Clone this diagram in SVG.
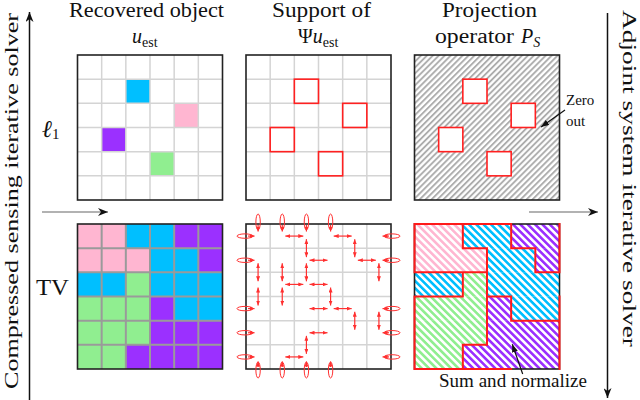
<svg xmlns="http://www.w3.org/2000/svg" width="640" height="400" viewBox="0 0 640 400">
<defs>
<style>
.t{font-family:"Liberation Serif","DejaVu Serif",serif;fill:#111}
.grid{stroke:#d4d4d4;stroke-width:1.5;fill:none}
.gridd{stroke:#9a9a9a;stroke-width:2;fill:none}
.frame{fill:none;stroke:#222;stroke-width:1.6}
.sq{fill:none;stroke:#ff2020;stroke-width:1.6}
.sqw{fill:#fff;stroke:#ff2020;stroke-width:1.6}
.red{stroke:#ff1a1a;stroke-width:2;fill:none;stroke-linecap:square}
.da{stroke:#ff3030;stroke-width:1.2;fill:none;marker-start:url(#ra);marker-end:url(#ra)}
.lp{stroke:#ff3030;stroke-width:1;fill:none}
.la{stroke:#ff3030;stroke-width:1.2;fill:none;marker-end:url(#ra)}
.P{fill:#ffb6d1}.C{fill:#00bfff}.G{fill:#90ee90}.U{fill:#9b30ff}
.hP{fill:url(#hP)}.hC{fill:url(#hC)}.hG{fill:url(#hG)}.hU{fill:url(#hU)}
</style>
<marker id="ra" viewBox="0 0 5 4" refX="5" refY="2" markerWidth="5" markerHeight="4" markerUnits="userSpaceOnUse" orient="auto-start-reverse"><path d="M0,0 L5,2 L0,4 z" fill="#ff3030"/></marker>
<marker id="ba" viewBox="0 0 10 8" refX="10" refY="4" markerWidth="10" markerHeight="8" markerUnits="userSpaceOnUse" orient="auto"><path d="M0,0 L10,4 L0,8 L3,4 z" fill="#111"/></marker>
<marker id="bs" viewBox="0 0 8 6" refX="8" refY="3" markerWidth="8" markerHeight="6" markerUnits="userSpaceOnUse" orient="auto"><path d="M0,0 L8,3 L0,6 z" fill="#111"/></marker>
<pattern id="hg" width="4.2" height="4.2" patternUnits="userSpaceOnUse" patternTransform="rotate(45)"><rect width="4.2" height="4.2" fill="#fff"/><line x1="1" y1="0" x2="1" y2="4.2" stroke="#a8a8a8" stroke-width="1.8"/></pattern>
<pattern id="hP" width="5.2" height="5.2" patternUnits="userSpaceOnUse" patternTransform="rotate(-45)"><rect width="5.2" height="5.2" fill="#fff"/><line x1="1.3" y1="0" x2="1.3" y2="5.2" stroke="#ffb6d1" stroke-width="2.6"/></pattern>
<pattern id="hC" width="5.2" height="5.2" patternUnits="userSpaceOnUse" patternTransform="rotate(-45)"><rect width="5.2" height="5.2" fill="#fff"/><line x1="1.3" y1="0" x2="1.3" y2="5.2" stroke="#00bfff" stroke-width="2.6"/></pattern>
<pattern id="hG" width="5.2" height="5.2" patternUnits="userSpaceOnUse" patternTransform="rotate(-45)"><rect width="5.2" height="5.2" fill="#fff"/><line x1="1.3" y1="0" x2="1.3" y2="5.2" stroke="#90ee90" stroke-width="2.6"/></pattern>
<pattern id="hU" width="5.2" height="5.2" patternUnits="userSpaceOnUse" patternTransform="rotate(-45)"><rect width="5.2" height="5.2" fill="#fff"/><line x1="1.3" y1="0" x2="1.3" y2="5.2" stroke="#9b30ff" stroke-width="2.6"/></pattern>
</defs>
<rect width="640" height="400" fill="#fff"/>

<g id="headers">
<text class="t" x="69" y="17" font-size="20" textLength="155" lengthAdjust="spacingAndGlyphs">Recovered object</text>
<text class="t" x="132" y="43" font-size="20"><tspan font-style="italic">u</tspan><tspan font-size="14" dy="4">est</tspan></text>
<text class="t" x="272" y="17" font-size="20" textLength="99" lengthAdjust="spacingAndGlyphs">Support of</text>
<text class="t" x="298" y="43" font-size="20">Ψ<tspan font-style="italic">u</tspan><tspan font-size="14" dy="4">est</tspan></text>
<text class="t" x="442" y="17" font-size="20" textLength="95" lengthAdjust="spacingAndGlyphs">Projection</text>
<text class="t" x="435" y="43" font-size="20" textLength="79" lengthAdjust="spacingAndGlyphs">operator</text>
<text class="t" x="521" y="43" font-size="20" font-style="italic">P<tspan font-size="14" dy="4">S</tspan></text>
</g>

<g id="side-left">
<line x1="29.5" y1="400" x2="29.5" y2="12" stroke="#111" stroke-width="1.5" marker-end="url(#ba)"/>
<text class="t" transform="translate(18,389) rotate(-90)" font-size="19.5" textLength="376" lengthAdjust="spacingAndGlyphs">Compressed sensing iterative solver</text>
</g>
<g id="side-right">
<line x1="607.5" y1="13" x2="607.5" y2="398" stroke="#111" stroke-width="1.5" marker-end="url(#ba)"/>
<text class="t" transform="translate(623,10) rotate(90)" font-size="19" textLength="337" lengthAdjust="spacingAndGlyphs">Adjoint system iterative solver</text>
</g>

<g id="row-labels">
<text class="t" x="42" y="137" font-size="24" font-style="italic">ℓ<tspan font-size="15" font-style="normal" dy="2">1</tspan></text>
<text class="t" x="36" y="295" font-size="24" textLength="33" lengthAdjust="spacingAndGlyphs">TV</text>
</g>

<g id="panel-l1-object">
<rect x="77.5" y="55" width="145" height="145" fill="#fff"/>
<rect class="C" x="125.83" y="79.17" width="24.17" height="24.17"/>
<rect class="P" x="174.17" y="103.33" width="24.17" height="24.17"/>
<rect class="U" x="101.67" y="127.5" width="24.17" height="24.17"/>
<rect class="G" x="150" y="151.67" width="24.17" height="24.17"/>
<path class="grid" d="M101.67 55V200M125.83 55V200M150 55V200M174.17 55V200M198.33 55V200M77.5 79.17H222.5M77.5 103.33H222.5M77.5 127.5H222.5M77.5 151.67H222.5M77.5 175.83H222.5"/>
<rect class="frame" x="77.5" y="55" width="145" height="145"/>
</g>

<g id="panel-l1-support">
<rect x="246" y="55" width="145" height="145" fill="#fff"/>
<path class="grid" d="M270.17 55V200M294.33 55V200M318.5 55V200M342.67 55V200M366.83 55V200M246 79.17H391M246 103.33H391M246 127.5H391M246 151.67H391M246 175.83H391"/>
<rect class="sq" x="294.33" y="79.17" width="24.17" height="24.17"/>
<rect class="sq" x="342.67" y="103.33" width="24.17" height="24.17"/>
<rect class="sq" x="270.17" y="127.5" width="24.17" height="24.17"/>
<rect class="sq" x="318.5" y="151.67" width="24.17" height="24.17"/>
<rect class="frame" x="246" y="55" width="145" height="145"/>
</g>

<g id="panel-l1-projection">
<rect x="414.5" y="55" width="145" height="145" fill="url(#hg)"/>
<rect class="sqw" x="462.83" y="79.17" width="24.17" height="24.17"/>
<rect class="sqw" x="511.17" y="103.33" width="24.17" height="24.17"/>
<rect class="sqw" x="438.67" y="127.5" width="24.17" height="24.17"/>
<rect class="sqw" x="487" y="151.67" width="24.17" height="24.17"/>
<rect class="frame" x="414.5" y="55" width="145" height="145"/>
</g>

<g id="zero-out">
<text class="t" x="566" y="105" font-size="15">Zero</text>
<text class="t" x="566" y="126" font-size="15">out</text>
</g>

<g id="panel-tv-object">
<rect class="P" x="77.5" y="224" width="48.33" height="24.3"/><rect class="C" x="125.83" y="224" width="48.34" height="24.3"/><rect class="U" x="174.17" y="224" width="48.33" height="24.3"/>
<rect class="P" x="77.5" y="248.17" width="72.5" height="24.3"/><rect class="C" x="150" y="248.17" width="48.33" height="24.3"/><rect class="U" x="198.33" y="248.17" width="24.17" height="24.3"/>
<rect class="C" x="77.5" y="272.33" width="48.33" height="24.3"/><rect class="G" x="125.83" y="272.33" width="24.17" height="24.3"/><rect class="C" x="150" y="272.33" width="72.5" height="24.3"/>
<rect class="G" x="77.5" y="296.5" width="72.5" height="24.3"/><rect class="U" x="150" y="296.5" width="24.17" height="24.3"/><rect class="C" x="174.17" y="296.5" width="48.33" height="24.3"/>
<rect class="G" x="77.5" y="320.67" width="72.5" height="24.3"/><rect class="U" x="150" y="320.67" width="72.5" height="24.3"/>
<rect class="G" x="77.5" y="344.83" width="48.33" height="24.17"/><rect class="U" x="125.83" y="344.83" width="96.67" height="24.17"/>
<path class="gridd" d="M101.67 224V369M125.83 224V369M150 224V369M174.17 224V369M198.33 224V369M77.5 248.17H222.5M77.5 272.33H222.5M77.5 296.5H222.5M77.5 320.67H222.5M77.5 344.83H222.5"/>
<rect class="frame" x="77.5" y="224" width="145" height="145"/>
</g>

<g id="panel-tv-support">
<rect x="246" y="224" width="145" height="145" fill="#fff"/>
<path class="grid" d="M270.17 224V369M294.33 224V369M318.5 224V369M342.67 224V369M366.83 224V369M246 248.17H391M246 272.33H391M246 296.5H391M246 320.67H391M246 344.83H391"/>
<rect class="frame" x="246" y="224" width="145" height="145"/>
</g>

<g id="panel-tv-projection">
<rect class="hP" x="414.5" y="224" width="48.33" height="24.3"/><rect class="hC" x="462.83" y="224" width="48.34" height="24.3"/><rect class="hU" x="511.17" y="224" width="48.33" height="24.3"/>
<rect class="hP" x="414.5" y="248.17" width="72.5" height="24.3"/><rect class="hC" x="487" y="248.17" width="48.33" height="24.3"/><rect class="hU" x="535.33" y="248.17" width="24.17" height="24.3"/>
<rect class="hC" x="414.5" y="272.33" width="48.33" height="24.3"/><rect class="hG" x="462.83" y="272.33" width="24.17" height="24.3"/><rect class="hC" x="487" y="272.33" width="72.5" height="24.3"/>
<rect class="hG" x="414.5" y="296.5" width="72.5" height="24.3"/><rect class="hU" x="487" y="296.5" width="24.17" height="24.3"/><rect class="hC" x="511.17" y="296.5" width="48.33" height="24.3"/>
<rect class="hG" x="414.5" y="320.67" width="72.5" height="24.3"/><rect class="hU" x="487" y="320.67" width="72.5" height="24.3"/>
<rect class="hG" x="414.5" y="344.83" width="48.33" height="24.17"/><rect class="hU" x="462.83" y="344.83" width="96.67" height="24.17"/>
<rect class="frame" x="414.5" y="224" width="145" height="145"/>
<path class="red" d="M462.83 224V248.17M511.17 224V248.17M487 248.17V272.33M535.33 248.17V272.33M462.83 272.33V296.5M487 272.33V296.5M487 296.5V320.67M511.17 296.5V320.67M487 320.67V344.83M462.83 344.83V369M414.5 224V272.33M414.5 296.5V369M559.5 224V272.33M559.5 296.5V369M462.83 248.17H487M511.17 248.17H535.33M414.5 272.33H487M535.33 272.33H559.5M414.5 296.5H462.83M487 296.5H511.17M511.17 320.67H559.5M462.83 344.83H487M414.5 224H511.17M414.5 369H511.17"/>
</g>

<g id="sum-normalize">
<text class="t" x="439" y="387" font-size="18" textLength="148" lengthAdjust="spacingAndGlyphs">Sum and normalize</text>
</g>

<g id="connectors">
<line x1="42" y1="212" x2="108" y2="212" stroke="#666" stroke-width="1.2" marker-end="url(#ba)"/>
<line x1="529" y1="212" x2="598" y2="212" stroke="#666" stroke-width="1.2" marker-end="url(#ba)"/>
<line x1="565" y1="110" x2="541" y2="127" stroke="#111" stroke-width="1.2" marker-end="url(#bs)"/>
<line x1="522.7" y1="374" x2="512.3" y2="344.3" stroke="#111" stroke-width="1.2" marker-end="url(#bs)"/>
<g id="tv-horizontal">
<line class="da" x1="285.33" y1="236.08" x2="303.33" y2="236.08"/><line class="da" x1="333.67" y1="236.08" x2="351.67" y2="236.08"/>
<line class="da" x1="309.5" y1="260.25" x2="327.5" y2="260.25"/><line class="da" x1="357.83" y1="260.25" x2="375.83" y2="260.25"/>
<line class="da" x1="285.33" y1="284.42" x2="303.33" y2="284.42"/><line class="da" x1="309.5" y1="284.42" x2="327.5" y2="284.42"/>
<line class="da" x1="309.5" y1="308.58" x2="327.5" y2="308.58"/><line class="da" x1="333.67" y1="308.58" x2="351.67" y2="308.58"/>
<line class="da" x1="309.5" y1="332.75" x2="327.5" y2="332.75"/>
<line class="da" x1="285.33" y1="356.92" x2="303.33" y2="356.92"/>
</g>
<g id="tv-vertical">
<line class="da" x1="258.08" y1="263.33" x2="258.08" y2="281.33"/><line class="da" x1="258.08" y1="287.5" x2="258.08" y2="305.5"/>
<line class="da" x1="282.25" y1="263.33" x2="282.25" y2="281.33"/><line class="da" x1="282.25" y1="287.5" x2="282.25" y2="305.5"/>
<line class="da" x1="306.42" y1="239.17" x2="306.42" y2="257.17"/><line class="da" x1="306.42" y1="263.33" x2="306.42" y2="281.33"/><line class="da" x1="306.42" y1="335.83" x2="306.42" y2="353.83"/>
<line class="da" x1="330.58" y1="287.5" x2="330.58" y2="305.5"/>
<line class="da" x1="354.75" y1="239.17" x2="354.75" y2="257.17"/><line class="da" x1="354.75" y1="311.67" x2="354.75" y2="329.67"/>
<line class="da" x1="378.92" y1="263.33" x2="378.92" y2="281.33"/><line class="da" x1="378.92" y1="311.67" x2="378.92" y2="329.67"/>
</g>
<g id="tv-periodic">
<ellipse class="lp" cx="245" cy="236.08" rx="8" ry="2.2"/><line class="la" x1="248" y1="236.08" x2="254.5" y2="236.08"/>
<ellipse class="lp" cx="245" cy="260.25" rx="8" ry="2.2"/><line class="la" x1="248" y1="260.25" x2="254.5" y2="260.25"/>
<ellipse class="lp" cx="245" cy="308.58" rx="8" ry="2.2"/><line class="la" x1="248" y1="308.58" x2="254.5" y2="308.58"/>
<ellipse class="lp" cx="245" cy="332.75" rx="8" ry="2.2"/><line class="la" x1="248" y1="332.75" x2="254.5" y2="332.75"/>
<ellipse class="lp" cx="245" cy="356.92" rx="8" ry="2.2"/><line class="la" x1="248" y1="356.92" x2="254.5" y2="356.92"/>
<ellipse class="lp" cx="392" cy="236.08" rx="8" ry="2.2"/><line class="la" x1="389" y1="236.08" x2="382.5" y2="236.08"/>
<ellipse class="lp" cx="392" cy="260.25" rx="8" ry="2.2"/><line class="la" x1="389" y1="260.25" x2="382.5" y2="260.25"/>
<ellipse class="lp" cx="392" cy="308.58" rx="8" ry="2.2"/><line class="la" x1="389" y1="308.58" x2="382.5" y2="308.58"/>
<ellipse class="lp" cx="392" cy="332.75" rx="8" ry="2.2"/><line class="la" x1="389" y1="332.75" x2="382.5" y2="332.75"/>
<ellipse class="lp" cx="392" cy="356.92" rx="8" ry="2.2"/><line class="la" x1="389" y1="356.92" x2="382.5" y2="356.92"/>
<ellipse class="lp" cx="258.08" cy="222" rx="2.2" ry="8"/><line class="la" x1="258.08" y1="225" x2="258.08" y2="231.5"/>
<ellipse class="lp" cx="282.25" cy="222" rx="2.2" ry="8"/><line class="la" x1="282.25" y1="225" x2="282.25" y2="231.5"/>
<ellipse class="lp" cx="306.42" cy="222" rx="2.2" ry="8"/><line class="la" x1="306.42" y1="225" x2="306.42" y2="231.5"/>
<ellipse class="lp" cx="330.58" cy="222" rx="2.2" ry="8"/><line class="la" x1="330.58" y1="225" x2="330.58" y2="231.5"/>
<ellipse class="lp" cx="258.08" cy="370" rx="2.2" ry="8"/><line class="la" x1="258.08" y1="367" x2="258.08" y2="361.5"/>
<ellipse class="lp" cx="282.25" cy="370" rx="2.2" ry="8"/><line class="la" x1="282.25" y1="367" x2="282.25" y2="361.5"/>
<ellipse class="lp" cx="306.42" cy="370" rx="2.2" ry="8"/><line class="la" x1="306.42" y1="367" x2="306.42" y2="361.5"/>
<ellipse class="lp" cx="330.58" cy="370" rx="2.2" ry="8"/><line class="la" x1="330.58" y1="367" x2="330.58" y2="361.5"/>
</g>
</g>
</svg>
